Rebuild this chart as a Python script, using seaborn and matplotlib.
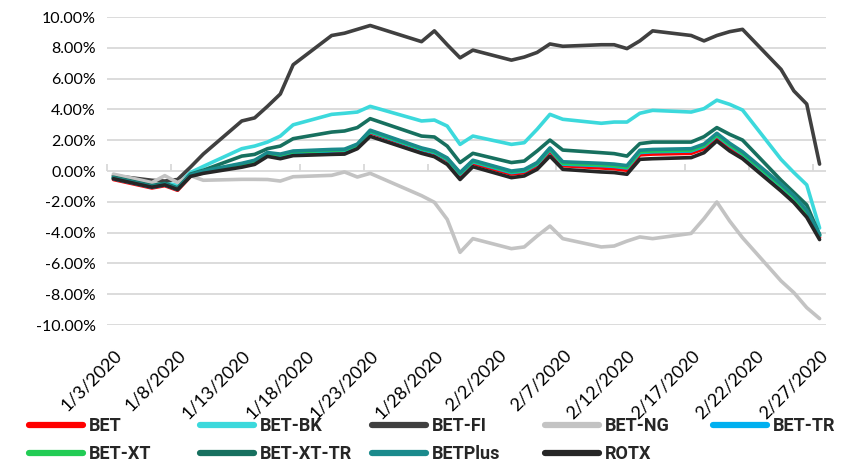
import pandas as pd
import matplotlib.pyplot as plt
import seaborn as sns
from matplotlib import font_manager

# -----------------------------
# Data: daily % change vs. start of year, BVB indices (Jan-Feb 2020)
# -----------------------------
dates = ["2020-01-03", "2020-01-06", "2020-01-07", "2020-01-08", "2020-01-09", "2020-01-10",
         "2020-01-13", "2020-01-14", "2020-01-15", "2020-01-16", "2020-01-17",
         "2020-01-20", "2020-01-21", "2020-01-22", "2020-01-23",
         "2020-01-27", "2020-01-28", "2020-01-29", "2020-01-30", "2020-01-31",
         "2020-02-03", "2020-02-04", "2020-02-05", "2020-02-06", "2020-02-07",
         "2020-02-10", "2020-02-11", "2020-02-12", "2020-02-13", "2020-02-14",
         "2020-02-17", "2020-02-18", "2020-02-19", "2020-02-20", "2020-02-21",
         "2020-02-24", "2020-02-25", "2020-02-26", "2020-02-27"]

bet = [-0.55, -1.10, -0.95, -1.25, -0.35, -0.10, 0.35, 0.55, 1.05, 0.95, 1.15,
       1.25, 1.28, 1.60, 2.50, 1.35, 1.15, 0.70, -0.30, 0.50,
       -0.20, -0.10, 0.35, 1.30, 0.35, 0.20, 0.15, 0.05, 1.05, 1.10,
       1.15, 1.45, 2.15, 1.50, 0.95, -1.15, -1.90, -2.85, -4.30]
bet_bk = [-0.35, -0.95, -0.80, -0.90, -0.10, 0.30, 1.45, 1.62, 1.88, 2.27, 3.00,
          3.68, 3.75, 3.83, 4.20, 3.25, 3.31, 2.92, 1.73, 2.27,
          1.73, 1.84, 2.71, 3.68, 3.36, 3.10, 3.18, 3.18, 3.75, 3.94,
          3.83, 4.05, 4.60, 4.33, 3.96, 0.76, -0.10, -0.90, -3.70]
bet_fi = [-0.30, -0.60, -0.65, -0.55, 0.25, 1.10, 3.25, 3.45, 4.20, 5.00, 6.90,
          8.80, 8.95, 9.20, 9.45, 8.40, 9.10, 8.20, 7.35, 7.85,
          7.20, 7.40, 7.70, 8.25, 8.10, 8.20, 8.20, 7.95, 8.45, 9.10,
          8.80, 8.45, 8.80, 9.05, 9.20, 6.60, 5.20, 4.35, 0.45]
bet_ng = [-0.20, -0.75, -0.30, -0.75, -0.30, -0.60, -0.54, -0.54, -0.55, -0.65, -0.37,
          -0.28, -0.06, -0.39, -0.15, -1.60, -2.03, -3.14, -5.28, -4.39,
          -5.04, -4.93, -4.22, -3.57, -4.39, -4.93, -4.87, -4.55, -4.28, -4.39,
          -4.05, -3.09, -2.01, -3.25, -4.33, -7.14, -7.90, -8.87, -9.58]
bet_tr = [-0.50, -1.05, -0.90, -1.20, -0.30, -0.05, 0.40, 0.60, 1.10, 1.00, 1.20,
          1.30, 1.33, 1.65, 2.55, 1.40, 1.20, 0.75, -0.20, 0.60,
          -0.10, 0.00, 0.45, 1.40, 0.45, 0.35, 0.30, 0.20, 1.20, 1.25,
          1.30, 1.60, 2.30, 1.65, 1.10, -1.00, -1.75, -2.70, -4.20]
bet_xt = [-0.45, -1.00, -0.85, -1.15, -0.30, 0.00, 0.45, 0.65, 1.15, 1.05, 1.25,
          1.35, 1.38, 1.70, 2.60, 1.45, 1.25, 0.80, -0.15, 0.65,
          -0.05, 0.05, 0.50, 1.45, 0.50, 0.40, 0.35, 0.25, 1.25, 1.30,
          1.35, 1.65, 2.35, 1.70, 1.15, -0.95, -1.70, -2.65, -4.15]
bet_xt_tr = [-0.40, -0.95, -0.80, -1.10, -0.20, 0.05, 0.97, 1.08, 1.45, 1.62, 2.10,
             2.53, 2.60, 2.82, 3.40, 2.27, 2.21, 1.62, 0.55, 1.15,
             0.55, 0.65, 1.30, 2.01, 1.36, 1.19, 1.13, 0.97, 1.78, 1.88,
             1.88, 2.23, 2.82, 2.38, 2.01, -0.60, -1.40, -2.20, -4.15]
bet_plus = [-0.45, -1.00, -0.85, -1.15, -0.25, 0.00, 0.50, 0.70, 1.20, 1.10, 1.30,
            1.40, 1.42, 1.75, 2.65, 1.50, 1.30, 0.85, -0.10, 0.70,
            0.00, 0.10, 0.55, 1.50, 0.60, 0.50, 0.45, 0.35, 1.35, 1.40,
            1.45, 1.75, 2.45, 1.80, 1.25, -0.85, -1.60, -2.55, -4.10]
rotx = [-0.50, -1.05, -0.90, -1.20, -0.35, -0.15, 0.25, 0.43, 0.95, 0.80, 1.00,
        1.08, 1.10, 1.45, 2.25, 1.15, 0.93, 0.43, -0.55, 0.28,
        -0.43, -0.32, 0.11, 0.97, 0.11, -0.06, -0.10, -0.21, 0.76, 0.80,
        0.87, 1.19, 1.95, 1.30, 0.80, -1.30, -2.05, -3.00, -4.45]

names = ["BET", "BET-BK", "BET-FI", "BET-NG", "BET-TR", "BET-XT", "BET-XT-TR", "BETPlus", "ROTX"]
colors = {"BET": "#FF0000", "BET-BK": "#3CD9DC", "BET-FI": "#404040", "BET-NG": "#C3C3C3",
          "BET-TR": "#00B0F0", "BET-XT": "#22CC55", "BET-XT-TR": "#17705F",
          "BETPlus": "#1A8A8C", "ROTX": "#262626"}

df = pd.DataFrame({"date": pd.to_datetime(dates), "BET": bet, "BET-BK": bet_bk, "BET-FI": bet_fi,
                   "BET-NG": bet_ng, "BET-TR": bet_tr, "BET-XT": bet_xt, "BET-XT-TR": bet_xt_tr,
                   "BETPlus": bet_plus, "ROTX": rotx})
df = df.melt(id_vars="date", var_name="index", value_name="change")

# -----------------------------
# Plot
# -----------------------------
sns.set_style("white")
plt.rcParams["font.family"] = ["Lato", "DejaVu Sans"]

installed = {f.name for f in font_manager.fontManager.ttflist}
legend_family = "Liberation Sans Narrow" if "Liberation Sans Narrow" in installed else "Roboto"

fig, ax = plt.subplots(figsize=(8.45, 4.65), dpi=100)
fig.subplots_adjust(left=0.1266, right=0.9775, top=0.9634, bottom=0.301)

sns.lineplot(data=df, x="date", y="change", hue="index", hue_order=names, palette=colors,
             estimator=None, linewidth=2.6, ax=ax)

ax.set_ylim(-10, 10)
ax.set_yticks(range(-10, 11, 2))
ax.yaxis.set_major_formatter(plt.FuncFormatter(lambda v, p: f"{v:.2f}%"))
ax.yaxis.grid(True, color="#D9D9D9", linewidth=1.3)
ax.set_axisbelow(True)
for s in ax.spines.values():
    s.set_visible(False)

ax.set_xlim(pd.Timestamp("2020-01-02 12:00"), pd.Timestamp("2020-02-27 12:00"))
label_days = pd.date_range("2020-01-03", "2020-02-27", freq="5D")
ax.set_xticks(label_days)
ax.set_xticklabels([f"{d.month}/{d.day}/{d.year}" for d in label_days],
                   rotation=45, ha="right", va="top", rotation_mode="anchor")
ax.tick_params(axis="x", length=0, pad=16, labelsize=13, labelcolor="black")
ax.tick_params(axis="y", length=0, pad=8, labelsize=11.5, labelcolor="black")
ax.set_xlabel("")
ax.set_ylabel("")

# small tick marks on the zero line, between categories
zero_axis = ax.secondary_xaxis(0.5)
zero_axis.set_xticks(pd.date_range("2020-01-02 12:00", periods=12, freq="5D"))
zero_axis.set_xticklabels([])
zero_axis.tick_params(length=5, width=1.3, color="#D9D9D9", direction="out",
                      labelbottom=False, labeltop=False)
for s in zero_axis.spines.values():
    s.set_visible(False)

# legend: fixed grid of 5 columns x 2 rows like the spreadsheet legend
handles, labels = ax.get_legend_handles_labels()
ax.get_legend().remove()
lookup = dict(zip(labels, handles))
columns = [["BET", "BET-XT"], ["BET-BK", "BET-XT-TR"], ["BET-FI", "BETPlus"],
           ["BET-NG", "ROTX"], ["BET-TR"]]
col_x = [29, 200, 372, 545, 713]
for keys, x in zip(columns, col_x):
    leg = fig.legend([lookup[k] for k in keys], keys, loc="upper left",
                     bbox_to_anchor=(x / 845, 1 - 417 / 465), frameon=False,
                     prop={"family": legend_family, "weight": "bold", "size": 13},
                     handlelength=3.0, handletextpad=0.3,
                     borderpad=0, borderaxespad=0, labelspacing=0.55)
    for line in leg.get_lines():
        line.set_linewidth(4.5)
        line.set_solid_capstyle("round")

plt.savefig("out.png", dpi=100)
